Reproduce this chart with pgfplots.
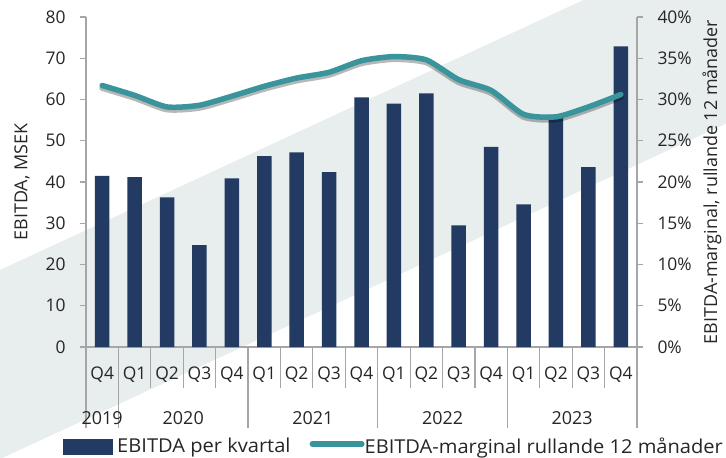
\documentclass[border=0pt]{standalone}
\usepackage{fontspec}
\setmainfont{Open Sans}
\newfontfamily\legfamily{Open Sans}[FakeStretch=1.05]
\usepackage{pgfplots}
\pgfplotsset{compat=1.18}
\usepackage{pgfplotstable}
\definecolor{navy}{RGB}{35,59,98}
\definecolor{tealc}{RGB}{57,148,155}
\definecolor{band}{RGB}{232,237,238}
\definecolor{axgray}{RGB}{166,166,166}
\definecolor{txt}{RGB}{38,38,38}
\pgfplotstableread{
x ebitda margin
0 41.5 31.7
1 41.2 30.5
2 36.3 29.1
3 24.7 29.3
4 40.9 30.4
5 46.3 31.6
6 47.2 32.6
7 42.4 33.3
8 60.5 34.7
9 59.0 35.2
10 61.5 34.8
11 29.5 32.4
12 48.5 31.1
13 34.6 28.2
14 56.3 27.9
15 43.6 29.1
16 72.9 30.6
}\datatable
\newcommand{\lblfont}{\fontsize{18}{21}\selectfont}
\newcommand{\tickfont}{\fontsize{17.5}{20}\selectfont}
\newcommand{\legfont}{\legfamily\fontsize{19.2}{22}\selectfont}
\begin{document}
\begin{tikzpicture}
\useasboundingbox (0,0) rectangle (726bp,458bp);
\begin{scope}
\clip (0,0) rectangle (726bp,458bp);
\fill[band] (0bp,188bp) -- (726bp,524bp) -- (726bp,334.4bp) -- (0bp,-1bp) -- cycle;
\end{scope}
\begin{axis}[
  at={(86bp,111bp)}, anchor=south west,
  width=551bp, height=330bp, scale only axis,
  xmin=-0.5, xmax=16.5, ymin=0, ymax=80,
  axis x line*=bottom, axis y line*=left,
  axis line style={axgray, line width=1.3bp},
  ytick={0,10,...,80},
  xtick={0,...,16},
  xticklabels={Q4,Q1,Q2,Q3,Q4,Q1,Q2,Q3,Q4,Q1,Q2,Q3,Q4,Q1,Q2,Q3,Q4},
  x tick style={draw=none},
  y tick style={axgray, line width=1.3bp},
  tick align=outside, major tick length=6bp,
  xticklabel style={anchor=base, yshift=-26bp, font=\tickfont, text=txt},
  yticklabel style={font=\tickfont, text=txt, xshift=-11bp},
  /pgf/number format/assume math mode=true,
  ylabel={EBITDA, MSEK},
  every axis y label/.style={at={(axis description cs:-0.116,0.5)}, rotate=90, anchor=center, font=\lblfont, text=txt},
  clip=false,
]
\addplot[ybar, bar width=14.5bp, fill=navy, draw=none] table[x=x,y=ebitda]{\datatable};
\draw[axgray, line width=1.2bp]
  (axis cs:1.5,0) -- ++(0pt,-41bp)
  (axis cs:2.5,0) -- ++(0pt,-41bp)
  (axis cs:3.5,0) -- ++(0pt,-41bp)
  (axis cs:5.5,0) -- ++(0pt,-41bp)
  (axis cs:6.5,0) -- ++(0pt,-41bp)
  (axis cs:7.5,0) -- ++(0pt,-41bp)
  (axis cs:9.5,0) -- ++(0pt,-41bp)
  (axis cs:10.5,0) -- ++(0pt,-41bp)
  (axis cs:11.5,0) -- ++(0pt,-41bp)
  (axis cs:13.5,0) -- ++(0pt,-41bp)
  (axis cs:14.5,0) -- ++(0pt,-41bp)
  (axis cs:15.5,0) -- ++(0pt,-41bp)
  (axis cs:-0.5,0) -- ++(0pt,-81bp)
  (axis cs:0.5,0) -- ++(0pt,-81bp)
  (axis cs:4.5,0) -- ++(0pt,-81bp)
  (axis cs:8.5,0) -- ++(0pt,-81bp)
  (axis cs:12.5,0) -- ++(0pt,-81bp)
  (axis cs:16.5,0) -- ++(0pt,-81bp);
\node[anchor=base, yshift=-77bp, font=\lblfont, text=txt] at (axis cs:0,0) {2019};
\node[anchor=base, yshift=-77bp, font=\lblfont, text=txt] at (axis cs:2.5,0) {2020};
\node[anchor=base, yshift=-77bp, font=\lblfont, text=txt] at (axis cs:6.5,0) {2021};
\node[anchor=base, yshift=-77bp, font=\lblfont, text=txt] at (axis cs:10.5,0) {2022};
\node[anchor=base, yshift=-77bp, font=\lblfont, text=txt] at (axis cs:14.5,0) {2023};
\end{axis}
\begin{axis}[
  at={(86bp,111bp)}, anchor=south west,
  width=551bp, height=330bp, scale only axis,
  xmin=-0.5, xmax=16.5, ymin=0, ymax=40,
  axis x line=none, axis y line*=right,
  axis line style={axgray, line width=1.3bp},
  ytick={0,5,...,40},
  yticklabel={\pgfmathprintnumber{\tick}\%},
  y tick style={axgray, line width=1.3bp},
  tick align=outside, major tick length=6bp,
  yticklabel style={font=\tickfont, text=txt, xshift=11bp},
  /pgf/number format/assume math mode=true,
  ylabel={EBITDA-marginal, rullande 12 månader},
  every axis y label/.style={at={(axis description cs:1.136,0.5)}, rotate=90, anchor=center, font=\lblfont, text=txt},
  legend columns=2,
  legend cell align=left,
  legend style={at={(axis description cs:-0.0417,-0.327)}, anchor=south west, draw=none, fill=none,
    inner sep=0pt, outer sep=0pt, font=\legfont, text=txt,
    nodes={inner sep=0pt},
    /tikz/every even column/.append style={column sep=19bp}},
  clip=false,
]
\addlegendimage{legend image code/.code={\fill[navy] (0bp,-7.5bp) rectangle (49bp,7.5bp); \path[draw=none,fill=none] (54bp,0bp);}}
\addlegendentry{EBITDA per kvartal}
\addplot[forget plot, smooth, tension=0.4, black, opacity=0.28, line width=6bp, line cap=round, line join=round, transform canvas={yshift=-2.5bp}] table[x=x,y=margin]{\datatable};
\addplot[smooth, tension=0.4, tealc, line width=5.5bp, line cap=round, line join=round,
  legend image code/.code={\path[draw=none,fill=none] (0bp,-7.5bp) -- (0bp,7.5bp); \draw[tealc, line width=5.5bp, line cap=round] (2.75bp,2.5bp) -- (52.25bp,2.5bp);}] table[x=x,y=margin]{\datatable};
\addlegendentry{EBITDA-marginal rullande 12 månader}
\end{axis}
\end{tikzpicture}
\end{document}
